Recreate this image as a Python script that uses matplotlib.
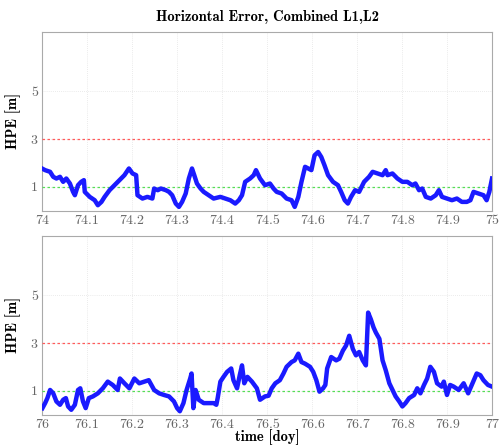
import matplotlib
matplotlib.use("Agg")
import matplotlib.pyplot as plt

# ---- data ----
t_top = [74.000, 74.007, 74.018, 74.025, 74.032, 74.040, 74.047, 74.054, 74.062, 74.069,
         74.073, 74.080, 74.087, 74.093, 74.095, 74.106, 74.117, 74.124, 74.132, 74.139,
         74.150, 74.161, 74.172, 74.183, 74.193, 74.201, 74.209, 74.212, 74.223, 74.234,
         74.245, 74.249, 74.257, 74.264, 74.275, 74.282, 74.289, 74.297, 74.304, 74.311,
         74.319, 74.326, 74.333, 74.338, 74.344, 74.352, 74.359, 74.370, 74.381, 74.396,
         74.407, 74.418, 74.429, 74.437, 74.444, 74.451, 74.462, 74.470, 74.475, 74.484,
         74.495, 74.506, 74.514, 74.521, 74.532, 74.543, 74.554, 74.561, 74.569, 74.576,
         74.584, 74.591, 74.598, 74.605, 74.613, 74.620, 74.627, 74.635, 74.646, 74.657,
         74.664, 74.672, 74.679, 74.686, 74.695, 74.704, 74.715, 74.726, 74.734, 74.745,
         74.756, 74.763, 74.767, 74.778, 74.789, 74.800, 74.811, 74.822, 74.829, 74.837,
         74.844, 74.852, 74.863, 74.874, 74.881, 74.888, 74.899, 74.910, 74.921, 74.932,
         74.943, 74.951, 74.958, 74.969, 74.980, 74.987, 74.993, 74.999]
hpe_top = [1.77, 1.70, 1.63, 1.42, 1.35, 1.42, 1.21, 1.35, 1.14, 0.79,
           0.65, 1.07, 1.21, 1.28, 0.79, 0.58, 0.44, 0.23, 0.37, 0.58,
           0.86, 1.07, 1.28, 1.49, 1.77, 1.56, 1.49, 0.65, 0.51, 0.58,
           0.51, 0.93, 0.86, 0.93, 0.86, 0.79, 0.65, 0.30, 0.16, 0.37,
           0.72, 1.35, 1.77, 1.49, 1.14, 0.93, 0.79, 0.65, 0.51, 0.58,
           0.51, 0.44, 0.30, 0.44, 0.65, 1.21, 1.35, 1.49, 1.70, 1.35,
           1.07, 1.14, 0.93, 0.79, 0.72, 0.51, 0.44, 0.16, 0.58, 1.21,
           1.84, 1.77, 1.70, 2.32, 2.46, 2.25, 1.91, 1.49, 1.21, 1.07,
           0.79, 0.44, 0.30, 0.58, 0.86, 0.79, 1.21, 1.42, 1.63, 1.56,
           1.49, 1.70, 1.49, 1.56, 1.35, 1.21, 1.21, 1.07, 1.14, 0.86,
           0.93, 0.58, 0.51, 0.65, 0.86, 0.58, 0.51, 0.44, 0.51, 0.37,
           0.37, 0.44, 0.79, 0.72, 0.65, 0.44, 0.79, 1.35]

t_bot = [76.001, 76.007, 76.012, 76.018, 76.025, 76.032, 76.040, 76.047, 76.053, 76.058,
         76.065, 76.073, 76.080, 76.085, 76.091, 76.097, 76.104, 76.113, 76.124, 76.135,
         76.146, 76.157, 76.168, 76.173, 76.183, 76.194, 76.205, 76.216, 76.227, 76.237,
         76.245, 76.249, 76.260, 76.271, 76.282, 76.293, 76.300, 76.306, 76.314, 76.321,
         76.329, 76.332, 76.336, 76.341, 76.348, 76.359, 76.370, 76.381, 76.387, 76.390,
         76.396, 76.403, 76.411, 76.420, 76.425, 76.433, 76.439, 76.444, 76.449, 76.456,
         76.466, 76.477, 76.484, 76.495, 76.503, 76.510, 76.518, 76.528, 76.536, 76.543,
         76.554, 76.561, 76.569, 76.576, 76.584, 76.595, 76.602, 76.609, 76.616, 76.624,
         76.629, 76.633, 76.642, 76.653, 76.660, 76.668, 76.675, 76.682, 76.690, 76.697,
         76.704, 76.712, 76.719, 76.724, 76.730, 76.736, 76.741, 76.749, 76.756, 76.763,
         76.771, 76.778, 76.785, 76.793, 76.800, 76.807, 76.815, 76.826, 76.833, 76.840,
         76.848, 76.855, 76.862, 76.870, 76.877, 76.887, 76.892, 76.899, 76.906, 76.914,
         76.925, 76.936, 76.946, 76.954, 76.965, 76.973, 76.980, 76.990, 76.999]
hpe_bot = [0.28, 0.49, 0.70, 1.04, 0.90, 0.56, 0.42, 0.63, 0.70, 0.35,
           0.21, 0.42, 1.04, 1.11, 0.56, 0.28, 0.70, 0.77, 0.90, 1.11,
           1.39, 1.25, 1.04, 1.52, 1.32, 1.11, 1.52, 1.32, 1.39, 1.45,
           1.18, 1.04, 0.90, 0.83, 0.77, 0.56, 0.28, 0.15, 0.49, 1.04,
           1.52, 1.73, 0.28, 1.04, 0.63, 0.49, 0.49, 0.49, 0.42, 0.70,
           1.39, 1.59, 1.80, 1.94, 1.45, 1.11, 1.66, 2.07, 1.32, 1.59,
           1.39, 1.11, 0.63, 0.77, 0.80, 1.11, 1.32, 1.45, 1.73, 2.01,
           2.21, 2.28, 2.56, 2.21, 2.14, 2.01, 1.80, 1.45, 0.97, 1.11,
           1.25, 1.94, 2.42, 2.28, 2.35, 2.69, 2.90, 3.31, 2.76, 2.49,
           2.63, 2.28, 2.07, 4.28, 4.00, 3.66, 3.45, 3.18, 2.28, 1.87,
           1.32, 1.04, 0.77, 0.56, 0.35, 0.49, 0.70, 0.83, 1.11, 0.90,
           1.25, 1.52, 2.01, 1.80, 1.32, 1.18, 1.39, 0.83, 1.25, 1.18,
           1.04, 1.32, 0.90, 1.25, 1.73, 1.66, 1.45, 1.25, 1.18]

xticks_top = [74.0, 74.1, 74.2, 74.3, 74.4, 74.5, 74.6, 74.7, 74.8, 74.9, 75.0]
xticks_bot = [76.0, 76.1, 76.2, 76.3, 76.4, 76.5, 76.6, 76.7, 76.8, 76.9, 77.0]
xlabels_top = ["74", "74.1", "74.2", "74.3", "74.4", "74.5", "74.6", "74.7", "74.8", "74.9", "75"]
xlabels_bot = ["76", "76.1", "76.2", "76.3", "76.4", "76.5", "76.6", "76.7", "76.8", "76.9", "77"]
yticks = [1, 3, 5]
ylabels = ["1", "3", "5"]
warn_level = 3
ref_level = 1

title = "Horizontal Error, Combined L1,L2"
ylab = "HPE [m]"
xlab = "time [doy]"

# ---- figure ----
fig = plt.figure(figsize=(5.01, 4.47), dpi=100)
ax1 = fig.add_axes([0.0838, 0.5286, 0.8992, 0.4004])
ax2 = fig.add_axes([0.0838, 0.0720, 0.8992, 0.4007])

tickfont = dict(family="cmr10", size=10)
boldfont = dict(family="cmb10", size=10.5)

for ax, t, v, xt, xl in [(ax1, t_top, hpe_top, xticks_top, xlabels_top),
                         (ax2, t_bot, hpe_bot, xticks_bot, xlabels_bot)]:
    ax.set_axisbelow(True)
    ax.grid(True, color="#e4e4e4", ls=(0, (1, 1.5)), lw=0.6)
    ax.axhline(warn_level, color="#ff5a5a", ls=(0, (2, 2)), lw=0.9, zorder=2.6)
    ax.axhline(ref_level, color="#55dd55", ls=(0, (2, 2)), lw=0.9, zorder=2.6)
    ax.plot(t, v, color="#1a1aff", lw=3.2, zorder=3)
    ax.set_xlim(xt[0], xt[-1])
    ax.set_ylim(0, 7.5)
    ax.set_xticks(xt)
    ax.set_xticklabels(xl, fontdict=tickfont, color="#666666")
    ax.set_yticks(yticks)
    ax.set_yticklabels(ylabels, fontdict=tickfont, color="#666666")
    ax.tick_params(length=0, pad=3)
    for s in ax.spines.values():
        s.set_color("#aaaaaa")
        s.set_linewidth(0.8)
    ax.set_ylabel(ylab, fontdict=boldfont, labelpad=7)

ax1.set_title(title, fontdict=boldfont, pad=8)
ax2.set_xlabel(xlab, fontdict=boldfont, labelpad=-1)

fig.savefig("out.png", dpi=100)
